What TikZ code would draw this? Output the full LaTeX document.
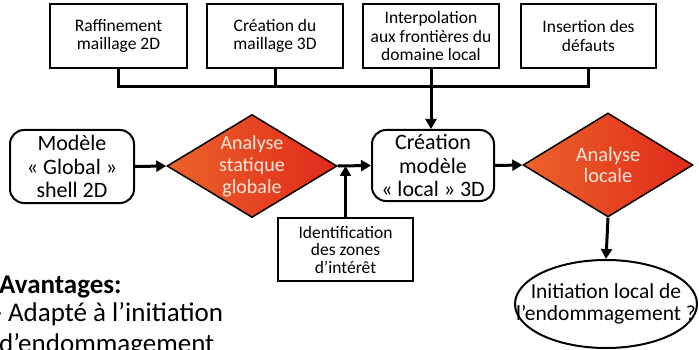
\documentclass[tikz,border=0pt]{standalone}
\usepackage{fontspec}
\setmainfont{Carlito}
\usetikzlibrary{shapes.geometric,arrows.meta}
\definecolor{dleft}{RGB}{236,98,42}
\definecolor{dright}{RGB}{224,42,26}
\definecolor{dtext}{RGB}{253,232,220}
\tikzset{
  topbox/.style={draw, line width=2pt, inner sep=0pt, align=center,
    minimum width=136pt, minimum height=64pt, font=\fontsize{17.5}{18.5}\selectfont},
  rbox/.style={draw, line width=2pt, rounded corners=14pt, inner sep=0pt, align=center,
    font=\fontsize{22}{23.5}\selectfont},
  dia/.style={diamond, draw, line width=1.5pt, inner sep=0pt,
    left color=dleft, right color=dright, minimum width=170pt, minimum height=103pt},
  dlabel/.style={text=dtext, align=center, inner sep=0pt, font=\fontsize{20}{22}\selectfont},
  conn/.style={line width=3pt},
  arr/.style={line width=3pt, -{Triangle[length=10pt,width=11pt]}},
  bigtext/.style={anchor=base west, inner sep=0pt, font=\fontsize{27}{27}\selectfont},
}
\begin{document}
\begin{tikzpicture}[x=1pt,y=-1pt]
\path[use as bounding box, fill=white] (0,0) rectangle (699,350);
\clip (0,0) rectangle (699,350);

% top boxes
\node[topbox, minimum width=137pt] (b1) at (118.5,36) {Raffinement\\maillage 2D};
\node[topbox] (b2) at (275,36) {Création du\\maillage 3D};
\node[topbox] (b3) at (431,36) {Interpolation\\aux frontières du\\domaine local};
\node[topbox, minimum width=135pt] (b4) at (588.5,36) {Insertion des\\défauts};
\coordinate (bus) at (431,87);

% middle row
\node[rbox, minimum width=124pt, minimum height=73pt] (mg) at (72,166.5) {Modèle\\« Global »\\shell 2D};
\node[dia, label={[dlabel]center:{Analyse\\statique\\globale}}] (d1) at (252,166) {};
\node[rbox, minimum width=122pt, minimum height=71pt] (cm) at (433,165.5) {Création\\modèle\\« local » 3D};
\node[dia, minimum height=104pt, label={[dlabel, font=\fontsize{20.5}{21}\selectfont]center:{Analyse\\locale}}] (d2) at (608,165) {};

% identification
\node[draw, line width=2pt, inner sep=0pt, align=center, minimum width=135pt, minimum height=63pt,
  font=\fontsize{17.5}{17.5}\selectfont] (id) at (345.5,249.5) {Identification\\des zones\\d’intérêt};
\coordinate (jn) at (id.north |- d1.east);

% ellipse
\node[ellipse, draw, line width=2pt, minimum width=182pt, minimum height=88pt, inner sep=0pt,
  label={[align=center, inner sep=0pt, font=\fontsize{21.5}{21.5}\selectfont]center:{Initiation local de\\l’endommagement ?}}] (ell) at (606,304) {};

% connectors
\draw[conn] (b1.south) |- (bus) -| (b4.south);
\draw[conn] (b2.south) -- (b2.south |- bus);
\draw[conn] (b3.south) -- (bus);
\draw[arr] (bus) -- (bus |- cm.north);
\draw[arr] (mg.east) -- (d1.west);
\draw[arr] (d1.east) -- (cm.west);
\draw[arr] (id.north) -- (jn);
\draw[arr] (cm.east) -- (d2.west);
\draw[arr] (d2.south) -- (ell.north);

% text block
\node[bigtext, font=\fontsize{27}{27}\selectfont\bfseries] (av) at (-1,293) {Avantages:};
\node[bigtext] (l1) at (-6.5,321) {- Adapté à l’initiation};
\node[bigtext] (l2) at (-1,352) {d’endommagement};
\end{tikzpicture}
\end{document}
